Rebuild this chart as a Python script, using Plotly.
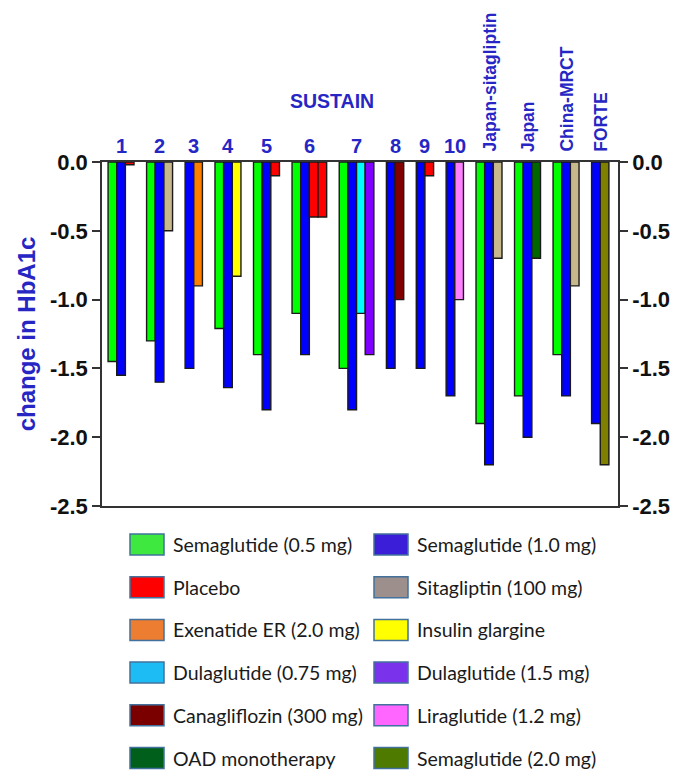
import plotly.graph_objects as go

# treatment arms (legend order, two columns read row by row)
treatments = [
    "Semaglutide (0.5 mg)", "Semaglutide (1.0 mg)",
    "Placebo", "Sitagliptin (100 mg)",
    "Exenatide ER (2.0 mg)", "Insulin glargine",
    "Dulaglutide (0.75 mg)", "Dulaglutide (1.5 mg)",
    "Canagliflozin (300 mg)", "Liraglutide (1.2 mg)",
    "OAD monotherapy", "Semaglutide (2.0 mg)",
]
bar_colors = ["#00ff00", "#0000ff", "#ff0000", "#c8b98c", "#ff8000", "#ffff00",
              "#00ffff", "#8000ff", "#800000", "#ff80ff", "#006600", "#808000"]
legend_colors = ["#3ee83e", "#3a1ed8", "#ff0000", "#9c8f8c", "#ed7d31", "#ffff00",
                 "#1ebcf4", "#7a33ea", "#7a0000", "#ff66ff", "#005f1a", "#4e7a00"]

# trials and the arms shown in each (index into treatments)
trials = ["1", "2", "3", "4", "5", "6", "7", "8", "9", "10",
          "Japan-sitagliptin", "Japan", "China-MRCT", "FORTE"]
trial_arms = [[0, 1, 2], [0, 1, 3], [1, 4], [0, 1, 5], [0, 1, 2], [0, 1, 2, 2],
              [0, 1, 6, 7], [1, 8], [1, 2], [1, 9], [0, 1, 3], [0, 1, 10],
              [0, 1, 3], [1, 11]]
trial_values = [
    [-1.45, -1.55, -0.02],
    [-1.3, -1.6, -0.5],
    [-1.5, -0.9],
    [-1.21, -1.64, -0.83],
    [-1.4, -1.8, -0.1],
    [-1.1, -1.4, -0.4, -0.4],
    [-1.5, -1.8, -1.1, -1.4],
    [-1.5, -1.0],
    [-1.5, -0.1],
    [-1.7, -1.0],
    [-1.9, -2.2, -0.7],
    [-1.7, -2.0, -0.7],
    [-1.4, -1.7, -0.9],
    [-1.9, -2.2],
]

# slot layout: one unit per bar, gap between trials
pad_left, gap, pad_right = 0.7, 1.45, 1.05
xs = [[] for _ in treatments]
ys = [[] for _ in treatments]
centers = []
cursor = pad_left
for arms, vals in zip(trial_arms, trial_values):
    start = cursor
    for a, v in zip(arms, vals):
        xs[a].append(cursor + 0.5)
        ys[a].append(v)
        cursor += 1
    centers.append((start + cursor) / 2)
    cursor += gap
x_end = cursor - gap + pad_right

fig = go.Figure()
for i, name in enumerate(treatments):
    fig.add_trace(go.Bar(
        x=xs[i], y=ys[i], name=name, width=1,
        marker=dict(color=bar_colors[i], line=dict(color="#1a1a1a", width=1.4)),
        showlegend=False,
        yaxis="y2" if i == len(treatments) - 1 else "y",
    ))

# page has an 8px body margin, so work in page pixels and shift
OFF = 8
W, H = 685 - OFF, 781 - OFF
L, R, T, B = 102 - OFF, 618 - OFF, 162 - OFF, 506 - OFF


def px(x):
    return (x - OFF - L) / (R - L)


def py(y):
    return (B - (y - OFF)) / (B - T)


blue = "#2626c4"
font_b = "Liberation Sans, Arial, sans-serif"

# trial labels above the bars
for name, c in zip(trials, centers):
    if len(name) > 2:
        fig.add_annotation(x=c, y=1, xref="x", yref="paper", text=name,
                           textangle=-90, showarrow=False, xanchor="center",
                           yanchor="bottom", yshift=8,
                           font=dict(family=font_b, size=17.5, color=blue, weight="bold"))
    else:
        fig.add_annotation(x=c, y=1, xref="x", yref="paper", text=name,
                           showarrow=False, xanchor="center", yanchor="bottom", yshift=3,
                           font=dict(family=font_b, size=20, color=blue, weight="bold"))

fig.add_annotation(x=px(332), y=py(101), xref="paper", yref="paper", text="SUSTAIN",
                   showarrow=False, xanchor="center", yanchor="middle",
                   font=dict(family=font_b, size=19.5, color=blue, weight="bold"))

# hand-made legend, two columns
col_x = [130, 374]
for i, name in enumerate(treatments):
    r, c = divmod(i, 2)
    cy = 544.5 + 42.7 * r
    x0 = col_x[c]
    fig.add_shape(type="rect", xref="paper", yref="paper",
                  x0=px(x0), x1=px(x0 + 34), y0=py(cy + 10.5), y1=py(cy - 10.5),
                  fillcolor=legend_colors[i], line=dict(color="#41719c", width=1.5))
    fig.add_annotation(x=px(x0 + 41), y=py(cy), xref="paper", yref="paper", text=name,
                       showarrow=False, xanchor="left", yanchor="middle",
                       font=dict(family="Lato, sans-serif", size=19.5, color="#1a1a1a"))

yticks = [0, -0.5, -1.0, -1.5, -2.0, -2.5]
ytext = [f"{v:.1f}" for v in yticks]
yax = dict(range=[-2.5, 0], tickvals=yticks, ticktext=ytext, ticks="outside",
           ticklen=8, tickwidth=1.5, tickcolor="#333", showline=True, linecolor="#333",
           linewidth=1.5, showgrid=False, zeroline=False,
           tickfont=dict(family=font_b, size=22, color="#111", weight="bold"))

fig.update_layout(
    width=W, height=H,
    margin=dict(l=L, r=W - R, t=T, b=H - B),
    paper_bgcolor="white", plot_bgcolor="white",
    barmode="overlay",
    xaxis=dict(range=[0, x_end], showticklabels=False, ticks="", showline=True,
               mirror=True, linecolor="#333", linewidth=1.5, showgrid=False, zeroline=False),
    yaxis=dict(**yax, side="left",
               title=dict(text="change in HbA1c", standoff=8,
                          font=dict(family=font_b, size=24, color=blue, weight="bold"))),
    yaxis2=dict(**yax, side="right", overlaying="y"),
)

fig.write_html("out.html")
